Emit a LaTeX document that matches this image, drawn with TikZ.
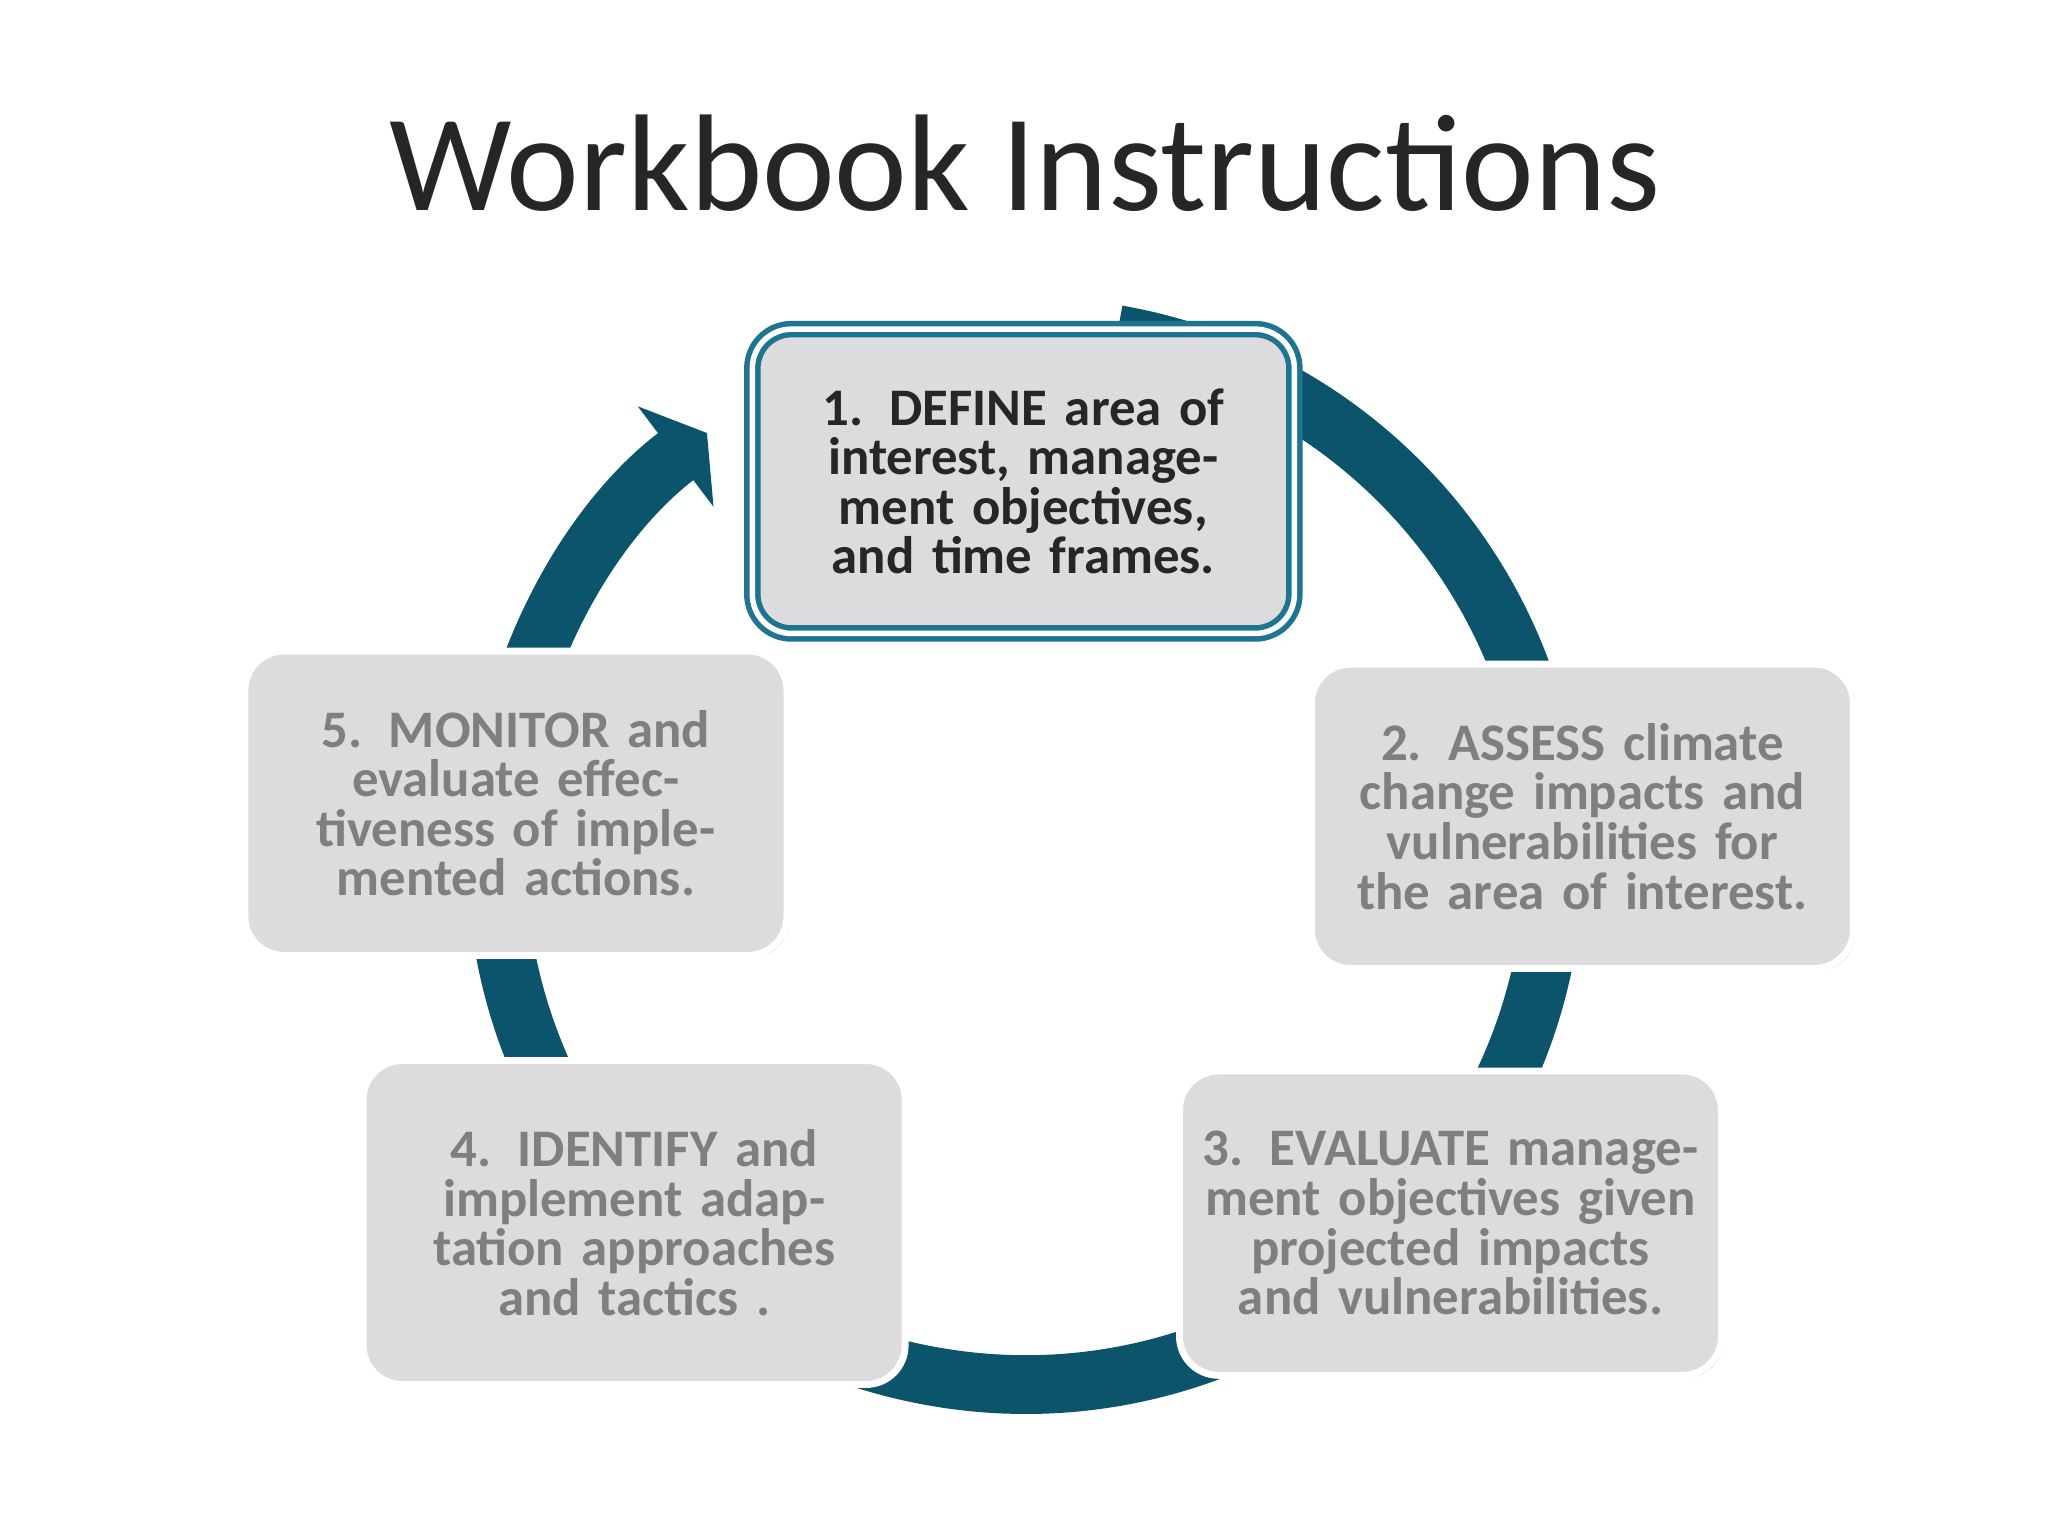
\documentclass[tikz,border=0pt]{standalone}
\usepackage{fontspec}
\setmainfont{Carlito}
\usetikzlibrary{arrows.meta,shadows}
\definecolor{teal1}{HTML}{0B546C}
\definecolor{tealb}{HTML}{1F7490}
\definecolor{boxfill}{HTML}{DCDCDE}
\definecolor{graytxt}{HTML}{7F7F7F}
\tikzset{
 stepbox/.style={rounded corners=0.3cm, fill=boxfill, draw=white, line width=1.5pt,
   minimum width=4.15cm, minimum height=2.33cm, align=center, text width=3.9cm,
   font=\bfseries\fontsize{11.5pt}{10.8pt}\selectfont, text=graytxt,
   drop shadow={shadow xshift=0.02cm, shadow yshift=-0.02cm, opacity=0.45, fill=gray}},
 firstbox/.style={stepbox, text=black!85, draw=tealb, double=white, double distance=1.2pt, line width=1.2pt}
}
\begin{document}
\begin{tikzpicture}[x=1cm,y=1cm]
\useasboundingbox (0,0) rectangle (15.68,-11.76);
\fill[white] (0,0) rectangle (15.68,-11.76);
\node (title) at (7.85,-1.25) {\fontsize{30pt}{30pt}\selectfont\color{black!85}Workbook Instructions};
\coordinate (c) at (7.85,-6.55);
\draw[teal1, line width=0.45cm, -{Triangle[length=0.3cm,width=0.95cm]}] ([shift={(80:4.05)}]c) arc (80:-233:4.05);
\node[firstbox] (b1) at (7.835,-3.685) {1. DEFINE area of interest, management objectives, and time frames.};
\node[stepbox] (b2) at (12.115,-6.25) {2. ASSESS climate change impacts and vulnerabilities for the area of interest.};
\node[stepbox] (b3) at (11.105,-9.365) {3. EVALUATE management objectives given projected impacts and vulnerabilities.};
\node[stepbox, minimum height=2.48cm] (b4) at (4.855,-9.36) {4. IDENTIFY and implement adaptation approaches and tactics .};
\node[stepbox] (b5) at (3.95,-6.15) {5. MONITOR and evaluate effectiveness of implemented actions.};
\end{tikzpicture}
\end{document}
